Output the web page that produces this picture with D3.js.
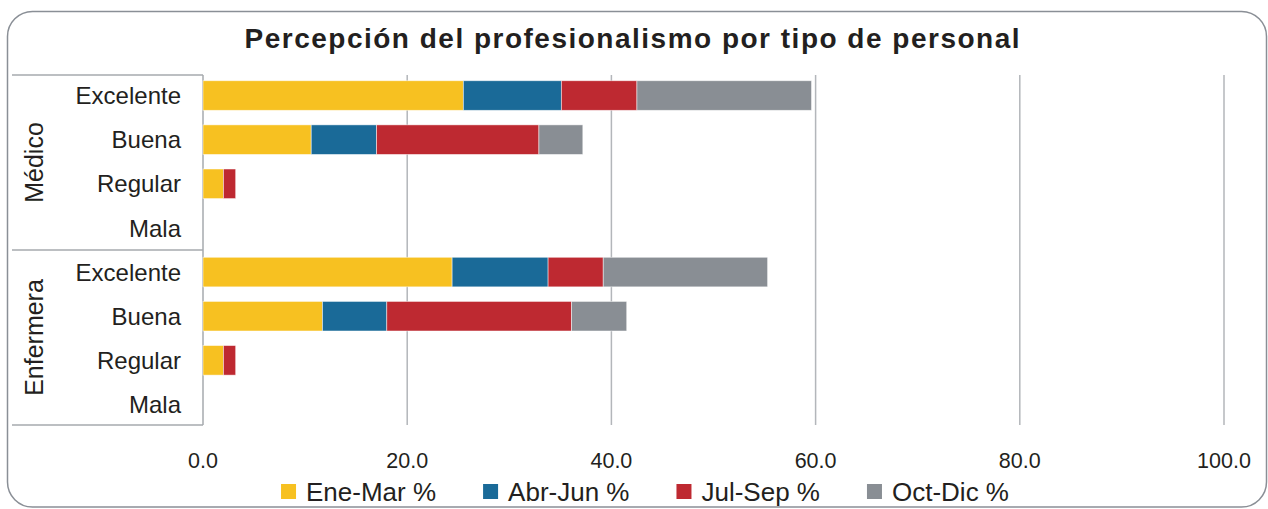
<!DOCTYPE html>
<html>
<head>
<meta charset="utf-8">
<script src="https://cdn.jsdelivr.net/npm/d3@7.9.0/dist/d3.min.js"></script>
<style>
  body { margin: 0; background: #fff; }
  svg { display: block; font-family: "Liberation Sans", Arial, sans-serif; }
</style>
</head>
<body>
<div id="chart"></div>
<script>
// values, rows in display order
const grupos = ['Médico', 'Enfermera'];
const categorias = ['Excelente', 'Buena', 'Regular', 'Mala'];
const series = ['Ene-Mar %', 'Abr-Jun %', 'Jul-Sep %', 'Oct-Dic %'];
const colores = ['#f7c121', '#1a6a98', '#be2931', '#898e94'];

const eneMar = [25.5, 10.6, 2.0, 0, 24.4, 11.7, 2.0, 0];
const abrJun = [9.6, 6.4, 0, 0, 9.4, 6.3, 0, 0];
const julSep = [7.4, 15.9, 1.2, 0, 5.4, 18.1, 1.2, 0];
const octDic = [17.1, 4.3, 0, 0, 16.1, 5.4, 0, 0];

const xTicks = [0, 20, 40, 60, 80, 100];

const width = 1268;
const height = 509;
const plot = { left: 203, right: 1224, top: 75, bottom: 425 };

// one row per grupo x categoria
const rows = [];
grupos.forEach((g, gi) => {
  categorias.forEach((c, ci) => {
    const i = gi * categorias.length + ci;
    rows.push({
      key: g + '|' + c, grupo: g, categoria: c,
      [series[0]]: eneMar[i], [series[1]]: abrJun[i],
      [series[2]]: julSep[i], [series[3]]: octDic[i],
    });
  });
});

const svg = d3.select('#chart').append('svg')
  .attr('width', width)
  .attr('height', height);

// outer frame
svg.append('rect')
  .attr('x', 7.5).attr('y', 11.5)
  .attr('width', 1259).attr('height', 495.5)
  .attr('rx', 25).attr('ry', 25)
  .attr('fill', 'none')
  .attr('stroke', '#8a8f96')
  .attr('stroke-width', 1.5);

svg.append('text')
  .attr('x', 632).attr('y', 48)
  .attr('text-anchor', 'middle')
  .attr('font-size', 28)
  .attr('font-weight', 'bold')
  .attr('fill', '#231f20')
  .attr('textLength', 775)
  .attr('lengthAdjust', 'spacing')
  .text('Percepción del profesionalismo por tipo de personal');

const x = d3.scaleLinear().domain([0, 100]).range([plot.left, plot.right]);
const y = d3.scaleBand()
  .domain(rows.map(d => d.key))
  .range([plot.top, plot.bottom])
  .paddingInner(0.33)
  .paddingOuter(0.13);

// gridlines
svg.append('g')
  .selectAll('line')
  .data(xTicks.slice(1))
  .join('line')
  .attr('x1', d => x(d)).attr('x2', d => x(d))
  .attr('y1', plot.top).attr('y2', plot.bottom)
  .attr('stroke', '#b3b6ba')
  .attr('stroke-width', 1.5);

// tick labels
svg.append('g')
  .selectAll('text')
  .data(xTicks)
  .join('text')
  .attr('x', d => x(d))
  .attr('y', 468)
  .attr('text-anchor', 'middle')
  .attr('font-size', 21.5)
  .attr('fill', '#231f20')
  .text(d => d3.format('.1f')(d));

// left category table
const table = svg.append('g')
  .attr('stroke', '#a6aaae')
  .attr('stroke-width', 1.5);
const groupEdges = [plot.top, y(rows[categorias.length].key) - y.step() * y.paddingInner() / 2, plot.bottom];
table.selectAll('line.h')
  .data(groupEdges)
  .join('line')
  .attr('class', 'h')
  .attr('x1', 12).attr('x2', plot.left)
  .attr('y1', d => d).attr('y2', d => d);
table.append('line')
  .attr('x1', plot.left).attr('x2', plot.left)
  .attr('y1', plot.top).attr('y2', plot.bottom);

// stacked bars
const stack = d3.stack().keys(series);
const layers = stack(rows);

svg.append('g')
  .selectAll('g')
  .data(layers)
  .join('g')
  .attr('fill', (d, i) => colores[i])
  .selectAll('rect')
  .data(d => d.filter(s => s[1] - s[0] > 0))
  .join('rect')
  .attr('x', d => x(d[0]))
  .attr('y', d => y(d.data.key))
  .attr('width', d => x(d[1]) - x(d[0]))
  .attr('height', y.bandwidth())
  .attr('stroke', '#ffffff')
  .attr('stroke-opacity', 0.6)
  .attr('stroke-width', 0.8);

// category labels
svg.append('g')
  .selectAll('text')
  .data(rows)
  .join('text')
  .attr('x', 181)
  .attr('y', d => y(d.key) + y.bandwidth() / 2)
  .attr('dy', '0.36em')
  .attr('text-anchor', 'end')
  .attr('font-size', 24)
  .attr('fill', '#231f20')
  .text(d => d.categoria);

// group labels, rotated
svg.append('g')
  .selectAll('text')
  .data(grupos)
  .join('text')
  .attr('transform', (d, i) => `translate(43, ${(groupEdges[i] + groupEdges[i + 1]) / 2}) rotate(-90)`)
  .attr('text-anchor', 'middle')
  .attr('font-size', 25)
  .attr('fill', '#231f20')
  .text(d => d);

// legend
const legend = svg.append('g');
const items = legend.selectAll('g')
  .data(series)
  .join('g');
items.append('rect')
  .attr('y', 484)
  .attr('width', 15).attr('height', 15)
  .attr('fill', (d, i) => colores[i]);
items.append('text')
  .attr('x', 25)
  .attr('y', 501)
  .attr('font-size', 26)
  .attr('fill', '#231f20')
  .text(d => d);

let cursor = 0;
const offsets = [];
items.each(function () {
  offsets.push(cursor);
  const w = d3.select(this).select('text').node().getComputedTextLength();
  cursor += 25 + w + 47;
});
const total = cursor - 47;
const start = 645 - total / 2;
items.attr('transform', (d, i) => `translate(${start + offsets[i]}, 0)`);
</script>
</body>
</html>
